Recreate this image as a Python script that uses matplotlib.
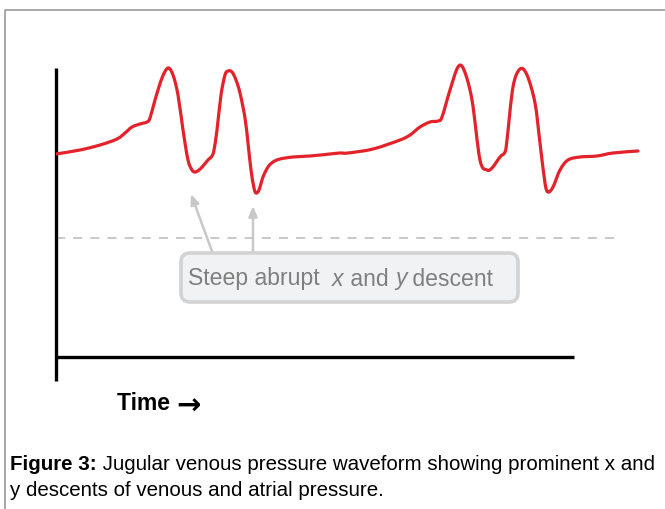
import matplotlib
matplotlib.use("Agg")
import matplotlib.pyplot as plt
import numpy as np
from matplotlib.patches import FancyBboxPatch, PathPatch
from matplotlib.path import Path

# JVP waveform (time / pressure in arbitrary units)
time_1 = [0, 24, 44, 61, 69, 76, 84, 91, 94, 99, 106, 112, 117, 122, 127, 132,
          136, 139, 143, 147, 152, 156, 158, 161, 165, 169, 172, 176, 180, 184,
          189, 192, 195, 198, 200, 203, 207, 212, 217, 224, 237, 254, 274, 284]
pres_1 = [203, 207, 212, 218, 224, 230, 233, 235, 239, 257, 279, 289, 282, 262,
          227, 197, 187, 185, 187, 191, 197, 201, 207, 227, 262, 282, 286, 285,
          277, 264, 239, 214, 187, 169, 164, 167, 180, 190, 195, 198, 200, 201,
          203, 204]
time_2 = [292, 317, 344, 354, 364, 374, 382, 386, 394, 402, 408, 416, 424,
          431, 436, 444, 449, 451, 457, 464, 471, 479, 484, 489, 492, 497, 504,
          512, 524, 541, 557, 582]
pres_2 = [204, 208, 217, 222, 230, 235, 236, 240, 267, 290, 287, 257, 197,
          187, 189, 200, 205, 217, 270, 288, 282, 254, 214, 174, 165, 170, 187,
          197, 200, 201, 204, 206]
baseline = 119          # dashed reference level
axis_end = 518          # end of drawn time axis
annotation = ["Steep abrupt  ", "x", " and ", "y", " descent"]
caption_bold = "Figure 3:"
caption_1 = " Jugular venous pressure waveform showing prominent x and"
caption_2 = "y descents of venous and atrial pressure."


def smooth_path(xs, ys):
    """Catmull-Rom through the traced points, as cubic Bezier segments."""
    p = np.column_stack([xs, ys]).astype(float)
    p = np.vstack([p[0], p, p[-1]])
    verts = [p[1]]; codes = [Path.MOVETO]
    for i in range(1, len(p) - 2):
        c1 = p[i] + (p[i + 1] - p[i - 1]) / 6
        c2 = p[i + 1] - (p[i + 2] - p[i]) / 6
        verts += [c1, c2, p[i + 1]]
        codes += [Path.CURVE4] * 3
    return Path(verts, codes)


W, H = 665, 509
fig = plt.figure(figsize=(W / 100, H / 100), dpi=100)

# overlay in pixel coordinates for the frame / labels
ov = fig.add_axes([0, 0, 1, 1])
ov.set_xlim(0, W); ov.set_ylim(H, 0); ov.axis("off")
ov.plot([5, 5, W + 5], [H + 5, 10, 10], color="#9a9a9a", lw=1.2, clip_on=False)

# data axes: 1 unit = 1 px
x0, yb = 56, 357
ax = fig.add_axes([x0 / W, (H - yb) / H, 590 / W, 300 / H])
ax.set_xlim(0, 590); ax.set_ylim(0, 300)
ax.axis("off")
red = "#e3222b"
ax.add_patch(PathPatch(smooth_path(time_1 + time_2, pres_1 + pres_2),
                       fill=False, edgecolor=red, lw=2.3, joinstyle="round",
                       capstyle="round", zorder=3))
ax.plot([0, 559], [baseline, baseline], color="#c4c4c4", lw=1.3,
        dashes=(5, 4.5), zorder=1)
ax.plot([0, axis_end], [0, 0], color="black", lw=2.4, solid_capstyle="butt",
        clip_on=False)
ax.plot([0, 0], [-24, 289], color="black", lw=2.4, solid_capstyle="butt",
        clip_on=False)

# arrows to the descents
arrow = dict(arrowstyle="-|>,head_length=0.6,head_width=0.25", color="#c8c8c8",
             lw=1.8, shrinkA=0, shrinkB=0)
ov.annotate("", xy=(191, 194), xytext=(213, 254), arrowprops=arrow, zorder=2)
ov.annotate("", xy=(253, 206), xytext=(253, 254), arrowprops=arrow, zorder=2)

box = FancyBboxPatch((181, 253), 337, 49,
                     boxstyle="round,pad=0,rounding_size=9",
                     facecolor="#f1f2f3", edgecolor="#d3d3d3", lw=2.6, zorder=4)
ov.add_patch(box)

fam = ["Liberation Sans", "DejaVu Sans"]
fig.canvas.draw()
r = fig.canvas.get_renderer()
xx = 188
for piece in annotation:
    t = ov.text(xx, 279, piece, fontsize=16.6, color="#7f7f7f", family=fam,
                style="italic" if piece.strip() in ("x", "y") else "normal",
                va="center", ha="left", zorder=5)
    xx += t.get_window_extent(r).width

t = ov.text(117, 403, "Time ", fontsize=16.5, fontweight="bold", family=fam,
            va="center", ha="left")
ov.text(117 + t.get_window_extent(r).width, 407, "\u2192", fontsize=21,
        fontweight="bold", family=["DejaVu Sans"], va="center", ha="left")

t = ov.text(10, 464, caption_bold, fontsize=14.8, fontweight="bold",
            family=fam, va="center", ha="left")
ov.text(10 + t.get_window_extent(r).width, 464, caption_1, fontsize=14.8,
        family=fam, va="center", ha="left")
ov.text(10, 491, caption_2, fontsize=14.8, family=fam, va="center", ha="left")

fig.savefig("out.png", dpi=100)
